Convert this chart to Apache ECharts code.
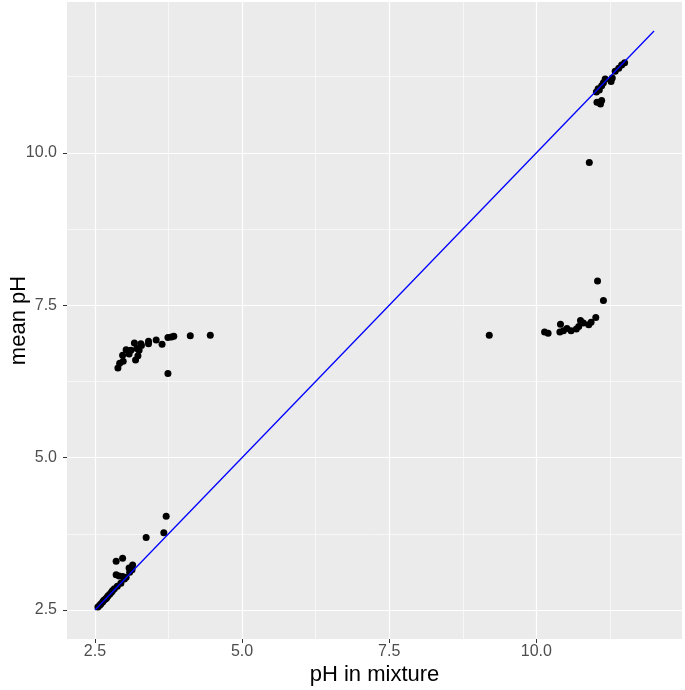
<!DOCTYPE html>
<html>
<head>
<meta charset="utf-8">
<script src="https://cdn.jsdelivr.net/npm/echarts@6/dist/echarts.min.js"></script>
<style>
  html, body { margin: 0; padding: 0; background: #fff; }
  #chart { width: 685px; height: 690px; }
</style>
</head>
<body>
<div id="chart"></div>
<script>
var mixPH = [
    2.55, 2.58, 2.60, 2.63, 2.65, 2.68, 2.70, 2.72, 2.75, 2.78, 2.80, 2.83, 2.88, 2.94, 3.00, 3.09,
    2.86, 2.97, 2.86, 2.91, 2.97, 3.03, 3.08, 3.14, 3.13, 3.37, 3.67, 3.71,
    2.89, 2.92, 2.98, 2.97, 3.03, 3.08, 3.11, 3.17, 3.21, 3.28, 3.25, 3.23, 3.19, 3.29,
    3.41, 3.41, 3.54, 3.64, 3.74, 3.80, 3.84, 4.12, 4.46, 3.74,
    9.20, 10.14, 10.20, 10.40, 10.41, 10.46, 10.52, 10.59, 10.68, 10.72, 10.75, 10.80,
    10.89, 10.93, 11.01, 11.04, 11.14,
    10.90, 11.03, 11.09, 11.11, 11.27, 11.29, 11.05, 11.07, 11.11, 11.14, 11.17, 11.34,
    11.40, 11.45, 11.50, 11.02
];
var meanPH = [
    2.55, 2.58, 2.60, 2.63, 2.66, 2.68, 2.70, 2.73, 2.76, 2.79, 2.82, 2.85, 2.89, 2.94, 3.01, 3.12,
    3.30, 3.35, 3.08, 3.06, 3.05, 3.04, 3.19, 3.24, 3.16, 3.69, 3.77, 4.04,
    6.47, 6.55, 6.58, 6.68, 6.77, 6.70, 6.76, 6.88, 6.79, 6.87, 6.76, 6.67, 6.60, 6.84,
    6.91, 6.87, 6.93, 6.86, 6.97, 6.98, 6.99, 7.00, 7.01, 6.38,
    7.01, 7.06, 7.04, 7.06, 7.19, 7.08, 7.12, 7.08, 7.11, 7.15, 7.25, 7.21,
    7.18, 7.22, 7.30, 7.90, 7.58,
    9.84, 10.83, 10.80, 10.86, 11.17, 11.23, 11.05, 11.03, 11.10, 11.15, 11.21, 11.34,
    11.39, 11.44, 11.48, 11.00
];

// identity line y = x
var lineX = [2.5, 12];
var lineY = [2.5, 12];

// axis ticks and grid lines
var majorTicks = [2.5, 5.0, 7.5, 10.0];
var minorTicks = [3.75, 6.25, 8.75, 11.25];
var axisMin = 2.025;
var axisMax = 12.475;

var chartDom = document.getElementById('chart');
var myChart = echarts.init(chartDom);

var points = mixPH.map(function (x, i) { return [x, meanPH[i]]; });
var linePts = lineX.map(function (x, i) { return [x, lineY[i]]; });

var gridLines = [];
minorTicks.forEach(function (v) {
    gridLines.push({ xAxis: v, lineStyle: { width: 0.6 } });
    gridLines.push({ yAxis: v, lineStyle: { width: 0.6 } });
});
majorTicks.forEach(function (v) {
    gridLines.push({ xAxis: v, lineStyle: { width: 1.2 } });
    gridLines.push({ yAxis: v, lineStyle: { width: 1.2 } });
});

var labelFmt = function (v) { return v.toFixed(1); };

var option = {
    animation: false,
    textStyle: { fontFamily: 'Liberation Sans' },
    grid: {
        left: 67, right: 3, top: 2, bottom: 51,
        outerBoundsMode: 'none',
        containLabel: false,
        show: true, backgroundColor: '#EBEBEB', borderWidth: 0
    },
    xAxis: {
        type: 'value',
        min: axisMin, max: axisMax,
        name: 'pH in mixture',
        nameLocation: 'middle',
        nameGap: 25,
        nameMoveOverlap: false,
        nameTextStyle: { fontSize: 22, color: '#000', fontFamily: 'Liberation Sans' },
        axisLine: { show: false },
        axisTick: { show: true, length: 4, lineStyle: { color: '#333', width: 1 }, customValues: majorTicks },
        axisLabel: { color: '#4D4D4D', fontSize: 16, margin: 5, customValues: majorTicks, formatter: labelFmt },
        splitLine: { show: false }
    },
    yAxis: {
        type: 'value',
        min: axisMin, max: axisMax,
        name: 'mean pH',
        nameLocation: 'middle',
        nameRotate: 90,
        nameGap: 37,
        nameMoveOverlap: false,
        nameTextStyle: { fontSize: 22, color: '#000', fontFamily: 'Liberation Sans' },
        axisLine: { show: false },
        axisTick: { show: true, length: 4, lineStyle: { color: '#333', width: 1 }, customValues: majorTicks },
        axisLabel: { color: '#4D4D4D', fontSize: 16, margin: 10, customValues: majorTicks, formatter: labelFmt },
        splitLine: { show: false }
    },
    series: [
        {
            type: 'scatter',
            data: [],
            silent: true,
            markLine: {
                silent: true,
                z: 0,
                symbol: 'none',
                label: { show: false },
                lineStyle: { color: '#FFFFFF', type: 'solid' },
                data: gridLines
            },
            z: 0
        },
        {
            type: 'scatter',
            data: points,
            symbolSize: 7,
            itemStyle: { color: '#000000', opacity: 1 },
            z: 3
        },
        {
            type: 'line',
            data: linePts,
            showSymbol: false,
            lineStyle: { color: '#0000FF', width: 1.3 },
            z: 4
        }
    ]
};

option && myChart.setOption(option);
window.addEventListener('resize', function () {
    myChart.resize();
});
</script>
</body>
</html>
